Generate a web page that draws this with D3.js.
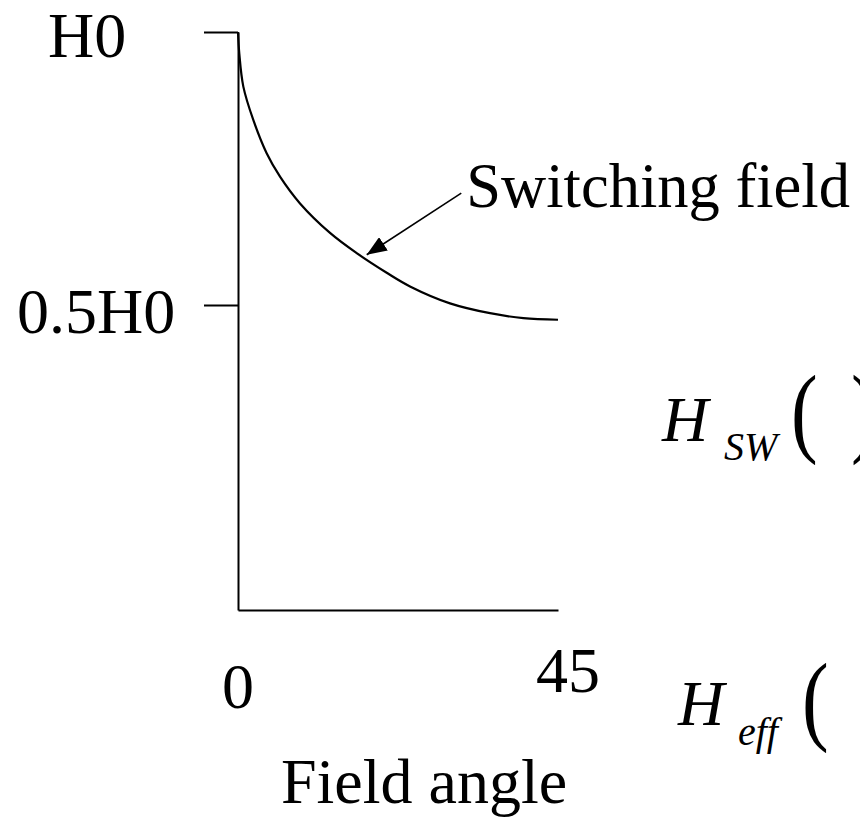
<!DOCTYPE html>
<html>
<head>
<meta charset="utf-8">
<script src="https://cdn.jsdelivr.net/npm/d3@7"></script>
<style>
  html, body { margin: 0; padding: 0; background: #fff; }
  svg { display: block; }
  text { font-family: "Liberation Serif", "Times New Roman", serif; fill: #000; }
</style>
</head>
<body>
<script>
// ---- data ----
const angles = [0, 0.18, 0.75, 2.15, 4.03, 5.91, 8.72, 12.94, 16.69, 20.91, 24.19, 29.81, 35.44, 40.13, 45];
const switchingField = [1.0, 0.961, 0.900, 0.839, 0.778, 0.735, 0.686, 0.632, 0.595, 0.559, 0.534, 0.503, 0.485, 0.476, 0.473];
const yTickValues = [0.5, 1];
const yTickLabels = ["0.5H0", "H0"];
const xTickValues = [0, 45];
const xTickLabels = ["0", "45"];
const xTitle = "Field angle";
const curveLabel = "Switching field";
const arrowTip = [18.1, 0.592];
const arrowTail = [31.4, 0.705];

const W = 860, H = 817;
const svg = d3.select("body").append("svg").attr("width", W).attr("height", H);
svg.append("rect").attr("width", W).attr("height", H).attr("fill", "#fff");

const x = d3.scaleLinear().domain([0, 45]).range([238, 558]);
const y = d3.scaleLinear().domain([-0.0586, 1]).range([610, 32]);

// y axis
const yAxis = svg.append("g").attr("transform", `translate(${x(0)},0)`)
  .call(d3.axisLeft(y).tickValues(yTickValues).tickSize(34).tickSizeOuter(0).tickFormat(""));
yAxis.selectAll("path, line").attr("stroke", "#000").attr("stroke-width", 2);

// x axis
const xAxis = svg.append("g").attr("transform", `translate(0,${y.range()[0]})`)
  .call(d3.axisBottom(x).tickValues([]).tickSize(0).tickSizeOuter(0));
xAxis.selectAll("path").attr("stroke", "#000").attr("stroke-width", 2);

// y tick labels
const yLabelPos = { "H0": { dx: -190, dy: 25 }, "0.5H0": { dx: -221, dy: 28 } };
yTickValues.forEach((v, i) => {
  const lab = yTickLabels[i];
  svg.append("text")
    .attr("x", x(0) + yLabelPos[lab].dx)
    .attr("y", y(v) + yLabelPos[lab].dy)
    .attr("font-size", 64)
    .text(lab);
});

// x tick labels
const xLabelPos = [{ dx: 0, y: 708 }, { dx: 10, y: 692 }];
xTickValues.forEach((v, i) => {
  svg.append("text")
    .attr("x", x(v) + xLabelPos[i].dx)
    .attr("y", xLabelPos[i].y)
    .attr("text-anchor", "middle")
    .attr("font-size", 64)
    .text(xTickLabels[i]);
});

// x title
svg.append("text")
  .attr("x", (x(0) + x(45)) / 2 + 26)
  .attr("y", 803)
  .attr("text-anchor", "middle")
  .attr("font-size", 64)
  .text(xTitle);

// curve
const line = d3.line()
  .x((d, i) => x(angles[i]))
  .y(d => y(d))
  .curve(d3.curveCatmullRom.alpha(0.5));
svg.append("path")
  .datum(switchingField)
  .attr("d", line)
  .attr("fill", "none")
  .attr("stroke", "#000")
  .attr("stroke-width", 2.2);

// arrow
const defs = svg.append("defs");
defs.append("marker")
  .attr("id", "arrowhead")
  .attr("viewBox", "0 0 20 16")
  .attr("refX", 20).attr("refY", 8)
  .attr("markerWidth", 20).attr("markerHeight", 16)
  .attr("markerUnits", "userSpaceOnUse")
  .attr("orient", "auto")
  .append("path").attr("d", "M0,0 L20,8 L0,16 Z").attr("fill", "#000");
svg.append("line")
  .attr("x1", x(arrowTail[0])).attr("y1", y(arrowTail[1]))
  .attr("x2", x(arrowTip[0])).attr("y2", y(arrowTip[1]))
  .attr("stroke", "#000").attr("stroke-width", 1.6)
  .attr("marker-end", "url(#arrowhead)");

svg.append("text")
  .attr("x", x(arrowTail[0]) + 5)
  .attr("y", 207)
  .attr("font-size", 62.5)
  .text(curveLabel);

// formula fragments on the right
function formula(xH, baseH, sub, xSub, baseSub, xParen, baseParen, closeX) {
  svg.append("text").attr("x", xH).attr("y", baseH)
    .attr("font-size", 64).attr("font-style", "italic").text("H");
  svg.append("text").attr("x", xSub).attr("y", baseSub)
    .attr("font-size", 40).attr("font-style", "italic").text(sub);
  svg.append("text").attr("transform", `translate(${xParen},${baseParen}) scale(0.8,1)`)
    .attr("font-size", 100).text("(");
  if (closeX !== null) {
    svg.append("text").attr("transform", `translate(${closeX},${baseParen}) scale(0.8,1)`)
      .attr("font-size", 100).text(")");
  }
}
formula(662, 441, "SW", 724, 460, 791, 444, 851);
formula(678, 725, "eff", 738, 745, 802, 732, null);
</script>
</body>
</html>
